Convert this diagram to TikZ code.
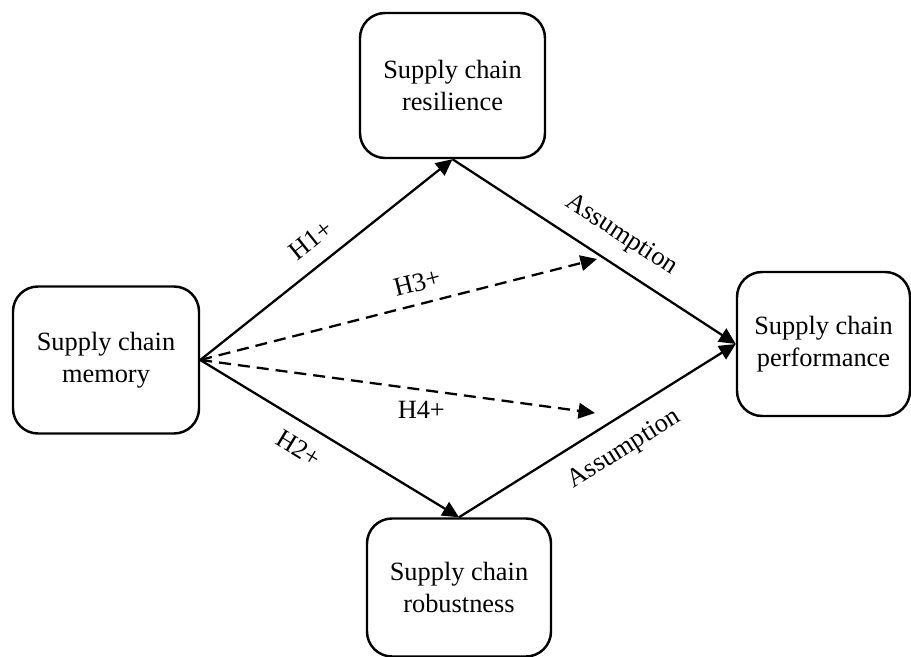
\documentclass[tikz,border=0pt]{standalone}
\usepackage{fontspec}
\setmainfont{Liberation Serif}
\usetikzlibrary{arrows.meta}

\begin{document}
\begin{tikzpicture}
  \tikzset{
    var_box/.style={draw, line width=1.4pt, rounded corners=0.5cm, align=center,
      font=\fontsize{15}{18}\selectfont, inner sep=0pt},
    path_arrow/.style={line width=1.3pt, -{Triangle[length=3.3mm, width=3.1mm]}},
    hyp_arrow/.style={path_arrow, dash pattern=on 2.4mm off 1.4mm},
    path_label/.style={font=\fontsize{15}{18}\selectfont},
  }

  % frame
  \useasboundingbox (0,0) rectangle (18.22,13.14);

  % variables
  \node[var_box, minimum width=3.72cm, minimum height=2.94cm] (memory) at (2.12,5.94) {Supply chain\\memory};
  \node[var_box, minimum width=3.70cm, minimum height=2.90cm] (resilience) at (9.05,11.43) {Supply chain\\resilience};
  \node[var_box, minimum width=3.68cm, minimum height=2.76cm] (robustness) at (9.18,1.39) {Supply chain\\robustness};
  \node[var_box, minimum width=3.46cm, minimum height=2.88cm] (performance) at (16.47,6.26) {Supply chain\\performance};

  % ends of the dashed paths
  \coordinate (h3_end) at (11.94,7.96);
  \coordinate (h4_end) at (11.90,4.88);

  % hypotheses
  \draw[path_arrow] (memory.east) -- node[path_label, sloped, above=0.18cm, pos=0.5] {H1+} (resilience.south);
  \draw[path_arrow] (memory.east) -- node[path_label, sloped, below=0.17cm, pos=0.43] {H2+} (robustness.north);
  \draw[hyp_arrow] (memory.east) -- node[path_label, sloped, above=0.11cm, pos=0.56] {H3+} (h3_end);
  \draw[hyp_arrow] (memory.east) -- node[path_label, below=0.09cm, pos=0.56] {H4+} (h4_end);

  % assumptions
  \draw[path_arrow] (resilience.south) -- node[path_label, sloped, above=0.2cm, pos=0.54] {Assumption} (performance.west);
  \draw[path_arrow] (robustness.north) -- node[path_label, sloped, below=0.24cm, pos=0.54] {Assumption} (performance.west);
\end{tikzpicture}
\end{document}
